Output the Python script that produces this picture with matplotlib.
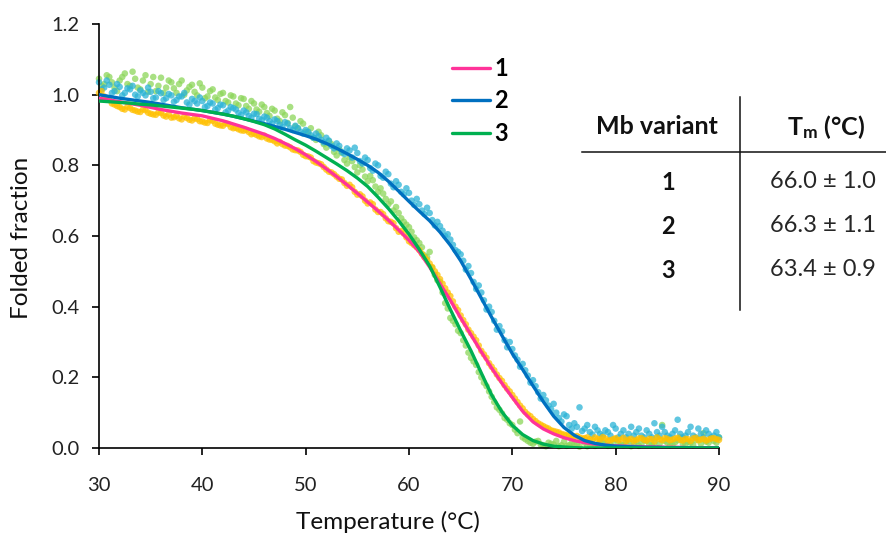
import numpy as np
import matplotlib
matplotlib.use("Agg")
import matplotlib.pyplot as plt
from matplotlib.lines import Line2D

plt.rcParams['font.family'] = ['Lato', 'DejaVu Sans']
plt.rcParams['mathtext.fontset'] = 'custom'
plt.rcParams['mathtext.rm'] = 'Lato'
plt.rcParams['mathtext.bf'] = 'Lato:bold'

# ---------------- data ----------------
# measured points, read every 0.5 degC (30 ... 90) and at the quarter points (30.25 ... 89.75)
temps = np.arange(30, 90.01, 0.5)
temps_b = np.arange(30.25, 89.8, 0.5)

obs1 = [1.005, 0.995, 0.985, 0.972, 0.965, 0.958, 0.962, 0.955, 0.951, 0.956,
        0.946, 0.943, 0.948, 0.938, 0.935, 0.940, 0.930, 0.934, 0.927, 0.931,
        0.924, 0.920, 0.926, 0.915, 0.912, 0.917, 0.905, 0.902, 0.898, 0.894,
        0.890, 0.882, 0.884, 0.873, 0.868, 0.866, 0.856, 0.851, 0.843, 0.838,
        0.826, 0.822, 0.808, 0.803, 0.788, 0.780, 0.768, 0.760, 0.742, 0.738,
        0.717, 0.712, 0.692, 0.690, 0.668, 0.662, 0.642, 0.636, 0.612, 0.607,
        0.585, 0.574, 0.560, 0.540, 0.522, 0.500, 0.478, 0.452, 0.430, 0.400,
        0.375, 0.350, 0.325, 0.305, 0.275, 0.255, 0.230, 0.208, 0.190, 0.168,
        0.150, 0.130, 0.112, 0.095, 0.082, 0.070, 0.062, 0.055, 0.048, 0.044,
        0.038, 0.035, 0.032, 0.030, 0.028, 0.025, 0.030, 0.024, 0.027, 0.022,
        0.028, 0.024, 0.020, 0.026, 0.023, 0.028, 0.021, 0.025, 0.030, 0.022,
        0.026, 0.024, 0.029, 0.021, 0.025, 0.027, 0.022, 0.026, 0.024, 0.028,
        0.023]
obs1_b = [1.010, 0.990, 0.975, 0.968, 0.960, 0.966, 0.957, 0.952, 0.958, 0.949,
          0.944, 0.950, 0.941, 0.944, 0.936, 0.933, 0.938, 0.929, 0.933, 0.925,
          0.921, 0.928, 0.918, 0.913, 0.919, 0.908, 0.906, 0.899, 0.900, 0.888,
          0.886, 0.880, 0.876, 0.872, 0.862, 0.860, 0.855, 0.845, 0.842, 0.830,
          0.825, 0.812, 0.806, 0.795, 0.782, 0.775, 0.762, 0.750, 0.745, 0.725,
          0.718, 0.700, 0.695, 0.675, 0.668, 0.650, 0.640, 0.622, 0.614, 0.596,
          0.580, 0.568, 0.550, 0.532, 0.512, 0.490, 0.465, 0.440, 0.415, 0.390,
          0.362, 0.335, 0.315, 0.290, 0.265, 0.240, 0.220, 0.198, 0.178, 0.160,
          0.140, 0.120, 0.102, 0.090, 0.076, 0.066, 0.058, 0.050, 0.046, 0.040,
          0.036, 0.031, 0.034, 0.027, 0.030, 0.022, 0.026, 0.031, 0.021, 0.025,
          0.022, 0.029, 0.024, 0.020, 0.027, 0.023, 0.026, 0.019, 0.025, 0.028,
          0.022, 0.027, 0.023, 0.026, 0.020, 0.029, 0.024, 0.021, 0.027, 0.025]

obs2 = [1.035, 1.020, 1.028, 1.010, 1.022, 1.005, 1.015, 1.000, 1.012, 0.998,
        1.008, 0.992, 1.004, 0.990, 0.998, 0.985, 0.995, 0.978, 0.988, 0.975,
        0.982, 0.968, 0.975, 0.962, 0.970, 0.955, 0.962, 0.948, 0.955, 0.940,
        0.946, 0.932, 0.938, 0.925, 0.930, 0.915, 0.922, 0.905, 0.912, 0.895,
        0.900, 0.885, 0.890, 0.872, 0.878, 0.855, 0.862, 0.838, 0.848, 0.822,
        0.835, 0.805, 0.815, 0.785, 0.800, 0.765, 0.775, 0.738, 0.745, 0.718,
        0.722, 0.688, 0.690, 0.662, 0.665, 0.630, 0.628, 0.600, 0.590, 0.560,
        0.548, 0.505, 0.495, 0.450, 0.440, 0.392, 0.385, 0.335, 0.330, 0.285,
        0.280, 0.250, 0.238, 0.205, 0.192, 0.158, 0.150, 0.120, 0.125, 0.085,
        0.095, 0.065, 0.070, 0.115, 0.055, 0.045, 0.060, 0.040, 0.050, 0.035,
        0.055, 0.040, 0.030, 0.060, 0.045, 0.035, 0.050, 0.030, 0.045, 0.060,
        0.035, 0.040, 0.080, 0.030, 0.045, 0.035, 0.055, 0.030, 0.040, 0.035,
        0.030]
obs2_b = [1.015, 1.040, 1.005, 1.030, 0.998, 1.018, 1.025, 0.995, 1.005, 1.020,
          0.990, 1.010, 0.985, 1.002, 0.980, 0.995, 1.005, 0.972, 0.982, 0.992,
          0.965, 0.978, 0.958, 0.972, 0.950, 0.965, 0.958, 0.942, 0.950, 0.935,
          0.945, 0.928, 0.935, 0.918, 0.925, 0.908, 0.918, 0.900, 0.905, 0.890,
          0.895, 0.878, 0.882, 0.865, 0.870, 0.848, 0.855, 0.832, 0.842, 0.850,
          0.812, 0.822, 0.792, 0.805, 0.770, 0.782, 0.748, 0.755, 0.725, 0.735,
          0.700, 0.705, 0.672, 0.680, 0.645, 0.640, 0.615, 0.605, 0.575, 0.555,
          0.530, 0.515, 0.470, 0.460, 0.418, 0.400, 0.360, 0.345, 0.305, 0.300,
          0.262, 0.230, 0.220, 0.185, 0.175, 0.140, 0.135, 0.110, 0.100, 0.075,
          0.090, 0.055, 0.060, 0.048, 0.065, 0.038, 0.050, 0.035, 0.045, 0.065,
          0.030, 0.050, 0.040, 0.035, 0.055, 0.030, 0.040, 0.070, 0.035, 0.045,
          0.030, 0.050, 0.040, 0.035, 0.060, 0.030, 0.040, 0.050, 0.030, 0.045]

obs3 = [1.045, 1.030, 1.050, 1.020, 1.040, 1.060, 1.025, 1.045, 1.015, 1.055,
        1.030, 1.010, 1.048, 1.020, 1.035, 1.005, 1.040, 1.012, 1.028, 0.998,
        1.020, 0.995, 1.015, 0.985, 1.005, 0.978, 0.995, 0.970, 0.988, 0.960,
        0.975, 0.952, 0.965, 0.940, 0.955, 0.925, 0.942, 0.965, 0.910, 0.925,
        0.895, 0.905, 0.872, 0.885, 0.850, 0.860, 0.828, 0.835, 0.805, 0.812,
        0.780, 0.788, 0.755, 0.758, 0.725, 0.720, 0.690, 0.672, 0.665, 0.640,
        0.625, 0.596, 0.580, 0.545, 0.555, 0.490, 0.470, 0.410, 0.368, 0.350,
        0.325, 0.290, 0.255, 0.235, 0.200, 0.175, 0.145, 0.115, 0.098, 0.080,
        0.065, 0.042, 0.030, 0.020, 0.012, 0.020, 0.008, 0.015, 0.010, 0.005,
        0.018, 0.008, 0.012, 0.004, 0.015, 0.010, 0.006, 0.020, 0.012, 0.008,
        0.025, 0.010, 0.015, 0.005, 0.018, 0.012, 0.020, 0.008, 0.030, 0.065,
        0.015, 0.010, 0.022, 0.012, 0.018, 0.008, 0.025, 0.042, 0.015, 0.020,
        0.030]
obs3_b = [1.025, 1.055, 1.035, 1.010, 1.050, 1.030, 1.065, 1.020, 1.040, 1.008,
          1.050, 1.025, 1.005, 1.040, 1.018, 1.030, 1.000, 1.022, 1.008, 1.032,
          0.990, 1.010, 0.992, 1.002, 0.982, 0.998, 0.975, 0.990, 0.968, 0.982,
          0.958, 0.972, 0.948, 0.960, 0.932, 0.950, 0.920, 0.935, 0.905, 0.918,
          0.890, 0.878, 0.895, 0.860, 0.868, 0.838, 0.845, 0.815, 0.822, 0.795,
          0.800, 0.768, 0.770, 0.740, 0.735, 0.705, 0.698, 0.682, 0.650, 0.632,
          0.612, 0.588, 0.568, 0.540, 0.510, 0.475, 0.440, 0.395, 0.360, 0.332,
          0.305, 0.270, 0.245, 0.215, 0.185, 0.160, 0.130, 0.108, 0.085, 0.070,
          0.052, 0.075, 0.025, 0.015, 0.018, 0.010, 0.005, 0.012, 0.020, 0.008,
          0.006, 0.014, 0.010, 0.022, 0.005, 0.012, 0.010, 0.016, 0.006, 0.020,
          0.012, 0.008, 0.020, 0.014, 0.006, 0.022, 0.010, 0.015, 0.012, 0.020,
          0.008, 0.016, 0.030, 0.010, 0.015, 0.022, 0.012, 0.018, 0.028, 0.015]

# fitted curves, one value per degC from 30 to 90
fit_temps = np.arange(30, 91, 1)

fit1 = [0.990, 0.985, 0.980, 0.975, 0.970, 0.964, 0.958, 0.953, 0.948, 0.944,
        0.940, 0.933, 0.926, 0.917, 0.908, 0.898, 0.888, 0.876, 0.862, 0.847,
        0.830, 0.811, 0.790, 0.768, 0.745, 0.721, 0.696, 0.671, 0.645, 0.617,
        0.588, 0.555, 0.512, 0.465, 0.418, 0.368, 0.320, 0.272, 0.226, 0.183,
        0.143, 0.104, 0.074, 0.054, 0.040, 0.029, 0.021, 0.015, 0.011, 0.008,
        0.006, 0.005, 0.004, 0.003, 0.003, 0.002, 0.002, 0.001, 0.001, 0.001,
        0.001]

fit2 = [1.000, 0.995, 0.990, 0.986, 0.982, 0.978, 0.973, 0.968, 0.963, 0.959,
        0.955, 0.950, 0.945, 0.939, 0.932, 0.925, 0.918, 0.910, 0.902, 0.893,
        0.884, 0.874, 0.862, 0.848, 0.833, 0.817, 0.800, 0.780, 0.755, 0.727,
        0.698, 0.670, 0.643, 0.611, 0.574, 0.530, 0.478, 0.424, 0.370, 0.318,
        0.267, 0.222, 0.176, 0.131, 0.090, 0.058, 0.036, 0.021, 0.013, 0.008,
        0.005, 0.004, 0.003, 0.002, 0.002, 0.001, 0.001, 0.001, 0.000, 0.000,
        0.000]

fit3 = [0.982, 0.980, 0.978, 0.976, 0.973, 0.971, 0.968, 0.965, 0.962, 0.959,
        0.955, 0.950, 0.945, 0.939, 0.932, 0.924, 0.915, 0.903, 0.888, 0.872,
        0.857, 0.840, 0.822, 0.804, 0.785, 0.764, 0.740, 0.710, 0.678, 0.643,
        0.605, 0.562, 0.515, 0.455, 0.392, 0.332, 0.275, 0.212, 0.150, 0.102,
        0.064, 0.038, 0.021, 0.011, 0.005, 0.003, 0.001, 0.000, 0.000, 0.000,
        0.000, 0.000, 0.000, 0.000, 0.000, 0.000, 0.000, 0.000, 0.000, 0.000,
        0.000]

labels = ['1', '2', '3']
point_colors = ['#FFC000', '#2BB3D6', '#8CD65A']
line_colors = ['#FF3399', '#0070C0', '#00B050']

table_header = ['Mb variant', r'$\mathbf{T_{m}}$ (°C)']
table_variants = ['1', '2', '3']
table_tm = ['66.0 ± 1.0', '66.3 ± 1.1', '63.4 ± 0.9']

# ---------------- figure ----------------
W, H = 886, 538
fig = plt.figure(figsize=(W / 100, H / 100), dpi=100)
ax = fig.add_axes([99 / W, 1 - 448 / H, 620 / W, 424 / H])

obs = [obs1, obs2, obs3]
obs_b = [obs1_b, obs2_b, obs3_b]
fits = [fit1, fit2, fit3]
for i in [2, 1, 0]:
    ax.scatter(temps, obs[i], s=22, color=point_colors[i], alpha=0.75,
               edgecolors='none', clip_on=False, zorder=2)
    ax.scatter(temps_b, obs_b[i], s=22, color=point_colors[i], alpha=0.75,
               edgecolors='none', clip_on=False, zorder=2)

handles = []
for i in range(3):
    ln, = ax.plot(fit_temps, fits[i], color=line_colors[i], lw=2.4,
                  solid_capstyle='round', zorder=3, label=labels[i])
    handles.append(ln)

ax.set_xlim(30, 90)
ax.set_ylim(0, 1.2)
ax.set_xticks(np.arange(30, 91, 10))
ax.set_yticks(np.arange(0, 1.21, 0.2))
ax.set_yticklabels([f'{v:.1f}' for v in np.arange(0, 1.21, 0.2)])
for s in ['top', 'right']:
    ax.spines[s].set_visible(False)
for s in ['left', 'bottom']:
    ax.spines[s].set_linewidth(1.2)
ax.tick_params(axis='both', direction='out', length=5, width=1.2,
               labelsize=14.5, labelcolor='#222222')
ax.tick_params(axis='x', pad=16)
ax.tick_params(axis='y', pad=9)

fig.text(388 / W, 1 - 522 / H, 'Temperature (°C)', ha='center', va='center',
         fontsize=17.5, color='#111111')
fig.text(22 / W, 1 - 238 / H, 'Folded fraction', ha='center', va='center',
         rotation=90, fontsize=17.5, color='#111111')

leg = ax.legend(handles=handles, loc='upper left',
                bbox_to_anchor=(452 / W, 1 - 57 / H), bbox_transform=fig.transFigure,
                frameon=False, borderpad=0, borderaxespad=0, handlelength=1.6,
                handletextpad=0.2, labelspacing=0.4,
                prop={'family': 'Lato', 'weight': 'bold', 'size': 17})

# ---------------- table ----------------
def fx(px):
    return px / W

def fy(py):
    return 1 - py / H

fig.add_artist(Line2D([fx(582), fx(886)], [fy(152), fy(152)], color='#111111', lw=1.1))
fig.add_artist(Line2D([fx(740), fx(740)], [fy(97), fy(310)], color='#111111', lw=1.1))
fig.text(fx(657), fy(127), table_header[0], ha='center', va='center',
         fontsize=18, fontweight='bold', color='#111111')
fig.text(fx(826), fy(127), table_header[1], ha='center', va='center',
         fontsize=18, fontweight='bold', color='#111111')
row_y = [182, 226, 270]
for v, tm, yy in zip(table_variants, table_tm, row_y):
    fig.text(fx(668), fy(yy), v, ha='center', va='center', fontsize=17,
             fontweight='bold', color='#111111')
    fig.text(fx(823), fy(yy), tm, ha='center', va='center', fontsize=17,
             color='#262626')

fig.savefig('out.png', dpi=100)
